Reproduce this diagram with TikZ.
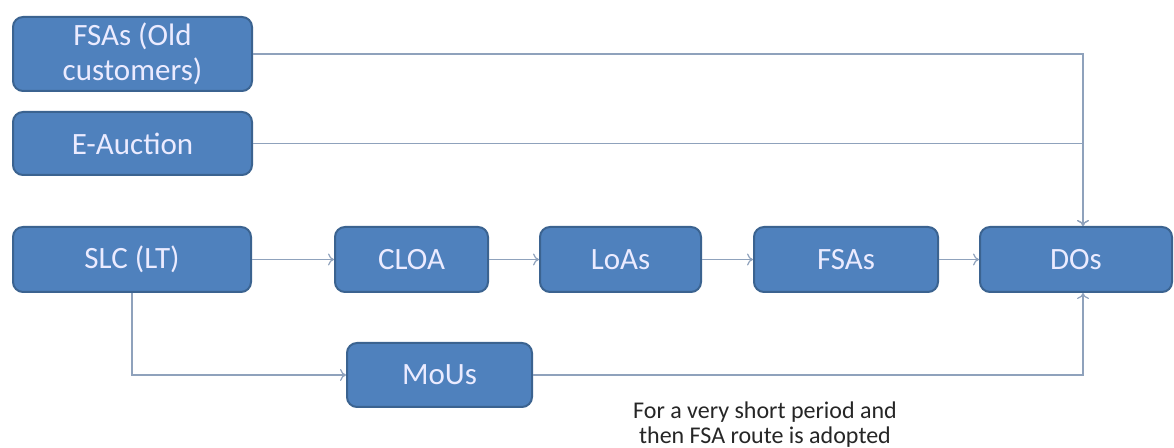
\documentclass[tikz,border=0pt]{standalone}
\usepackage{fontspec}
\setmainfont{Carlito}
\usetikzlibrary{arrows.meta}
\definecolor{boxblue}{HTML}{4F81BD}
\definecolor{boxedge}{HTML}{3B6390}
\definecolor{linkgray}{HTML}{8FA2BC}
\definecolor{notegray}{HTML}{262626}
\begin{document}
\begin{tikzpicture}[x=0.5pt,y=-0.5pt,
  stage/.style={draw=boxedge, line width=1pt, fill=boxblue, rounded corners=5pt,
    text=white!92!blue, font=\fontsize{15.5}{17.5}\selectfont, inner sep=0pt, align=center},
  link/.style={draw=linkgray, line width=0.6pt, -{To[length=3pt,width=6pt]}}]
\useasboundingbox[fill=white] (0,0) rectangle (1174,448);

\node[stage, minimum width=119.5pt, minimum height=37pt] (old) at (132.5,54) {FSAs (Old\\customers)};
\node[stage, minimum width=119.5pt, minimum height=31.5pt] (auction) at (132.5,143.5) {E-Auction};

\node[stage, minimum width=119pt, minimum height=32.5pt] (slc) at (132,259.5) {SLC (LT)};
\node[stage, minimum width=76.5pt, minimum height=32.5pt] (cloa) at (411.5,259.5) {CLOA};
\node[stage, minimum width=80.5pt, minimum height=32.5pt] (loas) at (620.5,259.5) {LoAs};
\node[stage, minimum width=92pt, minimum height=32.5pt] (fsas) at (846,259.5) {FSAs};
\node[stage, minimum width=96pt, minimum height=32.5pt] (dos) at (1076,259.5) {DOs};
\node[stage, minimum width=92.5pt, minimum height=32pt] (mous) at (439.5,375) {MoUs};

\node[text=notegray, font=\fontsize{12}{12.5}\selectfont, align=center] (note) at (765,425)
  {For a very short period and\\then FSA route is adopted};

\coordinate (drop) at (1083,0);

\draw[link] (slc) -- (cloa);
\draw[link] (cloa) -- (loas);
\draw[link] (loas) -- (fsas);
\draw[link] (fsas) -- (dos);
\draw[link] (old.east) -| (drop |- dos.north);
\draw[link] (auction.east) -| (drop |- dos.north);
\draw[link] (slc.south) |- (mous.west);
\draw[link] (mous.east) -| (drop |- dos.south);
\end{tikzpicture}
\end{document}
